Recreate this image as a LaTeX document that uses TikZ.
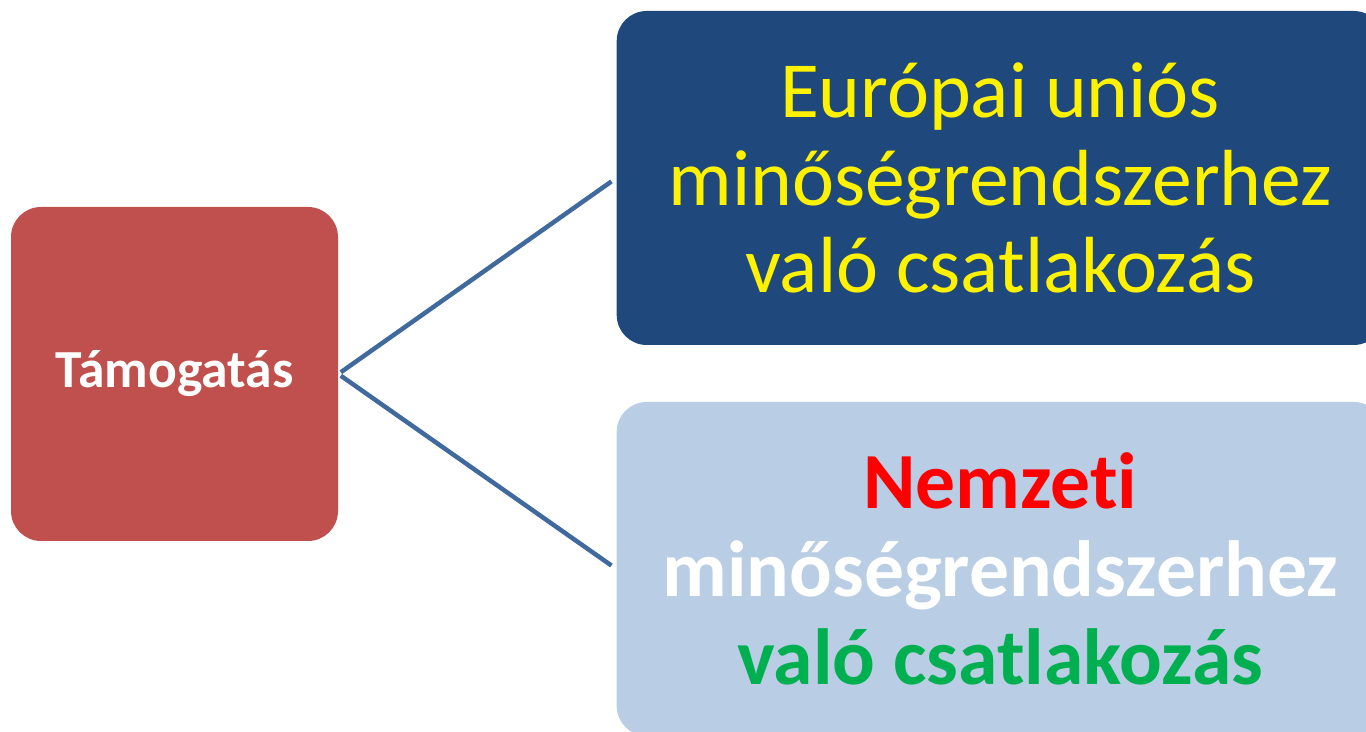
\documentclass[tikz,border=0pt]{standalone}
\usepackage{fontspec}
\setmainfont{Carlito}[Ligatures=NoCommon]
\usetikzlibrary{positioning}

\definecolor{boxred}{HTML}{C0504D}
\definecolor{boxdark}{HTML}{1F497D}
\definecolor{boxlight}{HTML}{B9CDE5}
\definecolor{linkblue}{RGB}{64,106,158}
\definecolor{txtgreen}{HTML}{00B050}

\tikzset{
    box/.style={rounded corners=0.6cm, inner sep=0pt, align=center},
    link/.style={draw=linkblue, line width=0.09cm, shorten <=0.06cm, shorten >=0.12cm}
}

\begin{document}
\begin{tikzpicture}
    \useasboundingbox (0,0) rectangle (27.32,14.64);
    \clip (0,0) rectangle (27.32,14.64);

    \node[box, fill=boxred, minimum width=6.54cm, minimum height=6.68cm,
        text=white, font=\fontsize{30.5}{36}\selectfont\bfseries] (supp) at (3.49,7.16) {Támogatás};
    \node[box, fill=boxdark, minimum width=15.34cm, minimum height=6.68cm,
        text=yellow, font=\fontsize{45.3}{50}\selectfont,
        right=5.56cm of supp, yshift=3.92cm] (eu) {Európai uniós\\minőségrendszerhez\\való csatlakozás};
    \node[box, fill=boxlight, minimum width=15.34cm, minimum height=6.68cm,
        font=\fontsize{45.3}{50}\selectfont\bfseries,
        right=5.56cm of supp, yshift=-3.9cm] (nat) {\textcolor{red}{Nemzeti}\\\textcolor{white}{minőségrendszerhez}\\\textcolor{txtgreen}{való csatlakozás}};

    \draw[link] (supp.east) -- (eu.west);
    \draw[link] (supp.east) -- (nat.west);
\end{tikzpicture}
\end{document}
